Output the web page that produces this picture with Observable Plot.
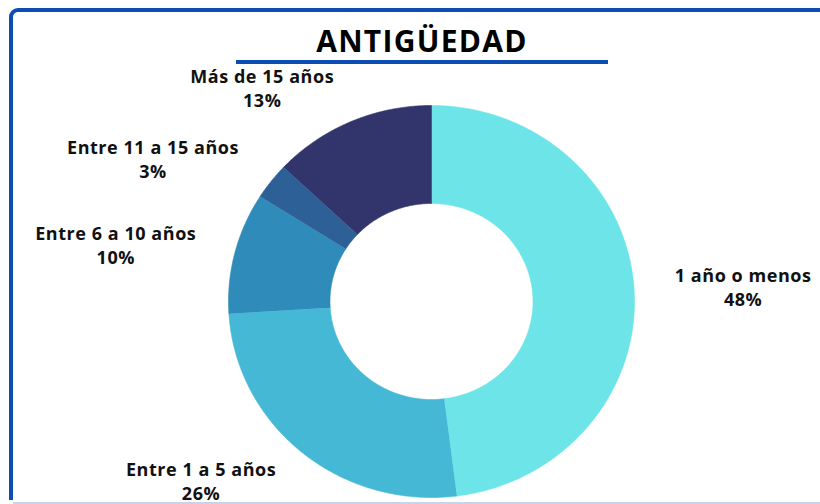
<!DOCTYPE html>
<html><head><meta charset="utf-8">
<script src="https://cdn.jsdelivr.net/npm/d3@7"></script>
<script src="https://cdn.jsdelivr.net/npm/@observablehq/plot@0.6"></script>
<style>
html,body{margin:0;padding:0;}
body{width:820px;height:504px;overflow:hidden;background:#fff;font-family:"Open Sans",sans-serif;position:relative;}
#frame{position:absolute;left:9px;top:8px;width:900px;height:492px;border:4px solid #0B4DB2;border-bottom:none;border-radius:9px 9px 0 0;box-sizing:border-box;}
#bottomline{position:absolute;left:13px;right:0;top:502px;height:2px;background:#c9d3ea;}
#title{position:absolute;left:0;width:844px;top:21px;text-align:center;font-size:30px;font-weight:700;line-height:1.362;color:#000;letter-spacing:1.3px;}
#underline{position:absolute;left:236px;width:372px;top:60px;height:4px;background:#0B4DB2;}
#chart{position:absolute;left:0;top:66px;}
</style>
</head><body>
<div id="frame"></div>
<div id="bottomline"></div>
<div id="title">ANTIGÜEDAD</div>
<div id="underline"></div>
<div id="chart"></div>
<script>
// Data
const categories = ["1 año o menos", "Entre 1 a 5 años", "Entre 6 a 10 años", "Entre 11 a 15 años", "Más de 15 años"];
const percents = [48, 26, 10, 3, 13];
const colors = ["#6CE4E8", "#45B8D6", "#2F8BB9", "#2D6097", "#31356C"];

// Layout (rendering only)
const innerR = 0.5, outerR = 1.0, labelR = 1.42;
const labelNudge = {
  "1 año o menos": [0.118, -0.01],
  "Entre 1 a 5 años": [-0.23, 0.18],
  "Entre 6 a 10 años": [-0.18, -0.06],
  "Entre 11 a 15 años": [-0.25, -0.14],
  "Más de 15 años": [-0.27, -0.21]
};

const total = d3.sum(percents);
let acc = 0;
const slices = categories.map((c, i) => {
  const a0 = acc / total * 2 * Math.PI;
  acc += percents[i];
  const a1 = acc / total * 2 * Math.PI;
  return {cat: c, pct: percents[i], a0, a1};
});

const pts = [];
for (const s of slices) {
  const n = Math.max(4, Math.ceil((s.a1 - s.a0) / (Math.PI / 360)));
  for (let k = 0; k <= n; k++) {
    const a = s.a0 + (s.a1 - s.a0) * k / n;
    pts.push({cat: s.cat, x: outerR * Math.sin(a), y: outerR * Math.cos(a)});
  }
  for (let k = n; k >= 0; k--) {
    const a = s.a0 + (s.a1 - s.a0) * k / n;
    pts.push({cat: s.cat, x: innerR * Math.sin(a), y: innerR * Math.cos(a)});
  }
}

const labels = slices.map(s => {
  const m = (s.a0 + s.a1) / 2;
  const nd = labelNudge[s.cat] || [0, 0];
  return {cat: s.cat, x: labelR * Math.sin(m) + nd[0], y: labelR * Math.cos(m) + nd[1], text: `${s.cat}\n${s.pct}%`};
});

const cx = 431, cy = 235, rx = 203, ry = 196;
const chart = Plot.plot({
  width: 820, height: 438,
  margin: 0,
  x: {domain: [-1, 1], range: [cx - rx, cx + rx], axis: null},
  y: {domain: [-1, 1], range: [cy + ry, cy - ry], axis: null},
  color: {domain: categories, range: colors},
  style: {background: "transparent", overflow: "visible"},
  marks: [
    Plot.line(pts, {x: "x", y: "y", z: "cat", fill: "cat", stroke: "cat", strokeWidth: 0.6, curve: "linear"}),
    Plot.text(labels, {x: "x", y: "y", text: "text", fontSize: 18, fontWeight: 700, lineHeight: 1.34, fill: "#111", fontFamily: "Open Sans", textAnchor: "middle", lineAnchor: "middle"})
  ]
});
chart.querySelectorAll("text").forEach(t => t.setAttribute("letter-spacing", "0.55"));
document.getElementById("chart").appendChild(chart);
</script>
</body></html>
